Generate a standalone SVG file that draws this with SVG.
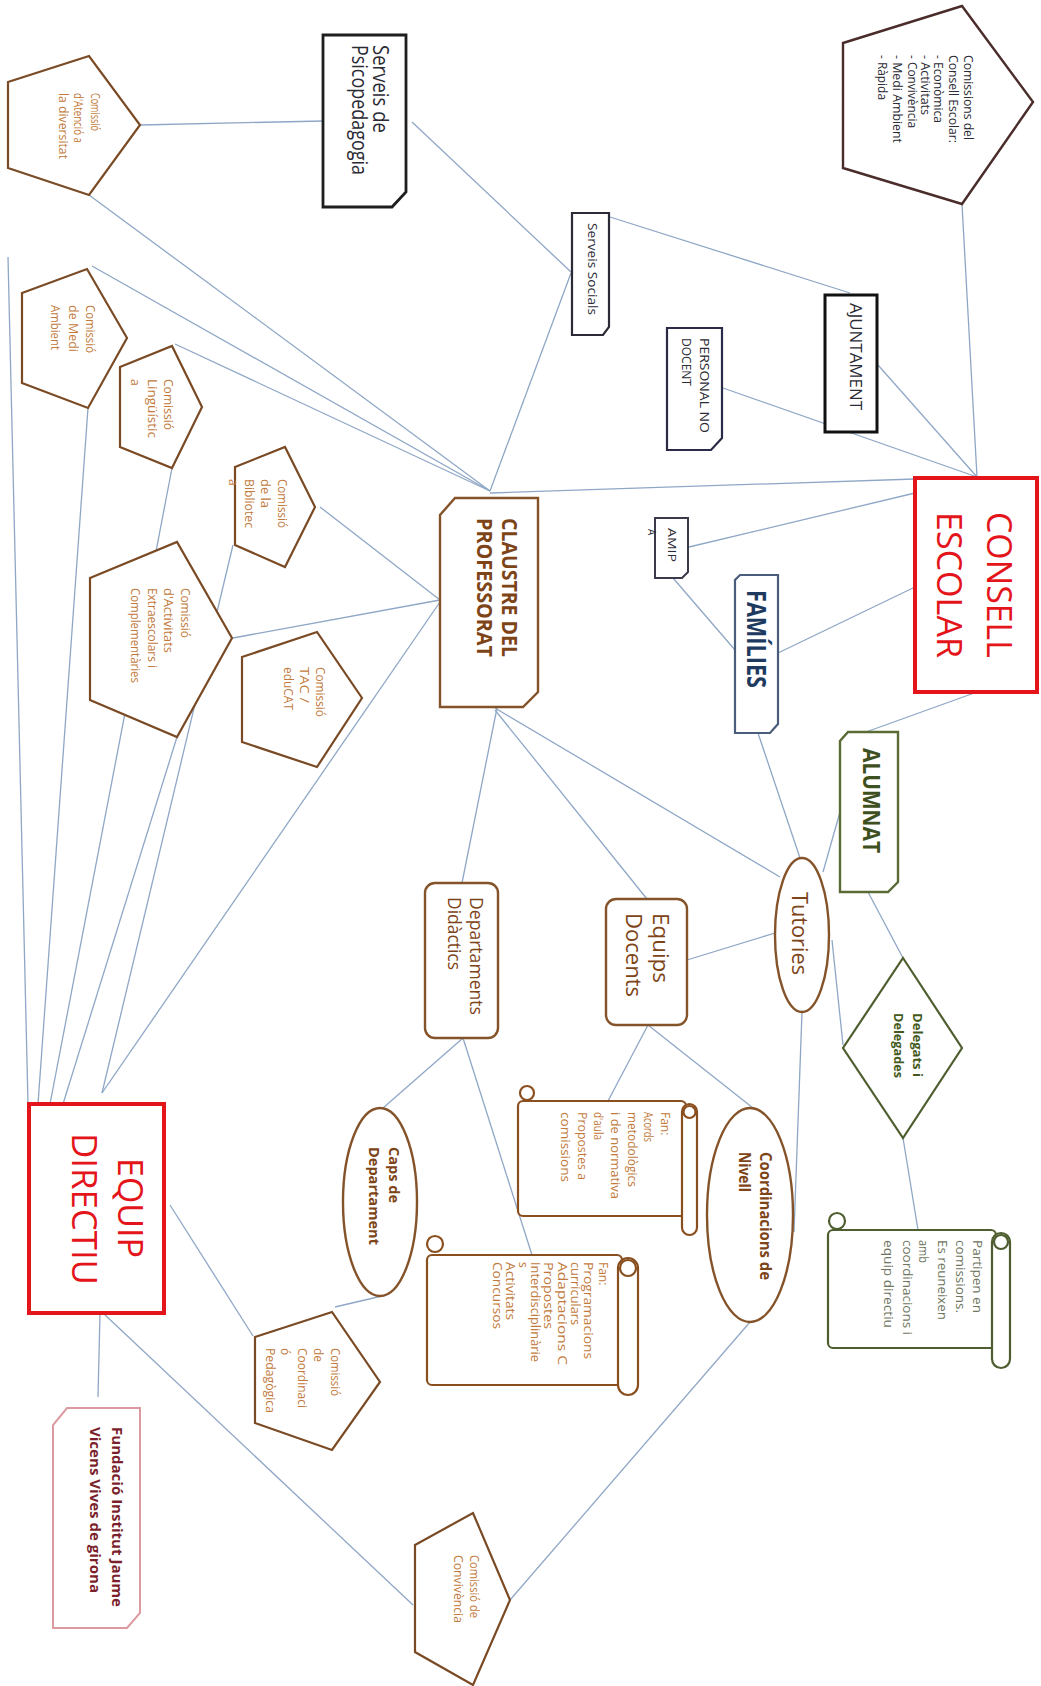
<svg xmlns="http://www.w3.org/2000/svg" width="1041" height="1686" viewBox="0 0 1041 1686">
<style>
text{font-family:"Open Sans","Liberation Sans",sans-serif;}
.ln{stroke:#8fa7c6;stroke-width:1.3;fill:none}
.pent{fill:#fff;stroke:#7a4a24;stroke-width:2.2;stroke-linejoin:miter}
.pt{fill:#c27a3c;font-size:12px}
.brn{fill:#fff;stroke:#85532a;stroke-width:2.4}
.bt{fill:#7d4418}
.btb{fill:#7d4418;font-weight:bold}
.scr{fill:#fff;stroke:#8a4f1f;stroke-width:2.2}
.st{fill:#c27a3c;font-size:12px}
.gscr{fill:#fff;stroke:#4f5e30;stroke-width:2.2}
.gt{fill:#6e7560;font-size:12px}
.dk{fill:#fff;stroke:#2b2b38;stroke-width:2.2}
.dt{fill:#2b2b35}
.red{fill:#fff;stroke:#e4141b;stroke-width:4}
.rt{fill:#e4141b}
</style>

<g id="connectors" class="ln">
<line x1="140" y1="125" x2="323" y2="121"/>
<line x1="412" y1="122" x2="571" y2="272"/>
<line x1="571" y1="273" x2="490" y2="491"/>
<line x1="610" y1="217" x2="850" y2="293"/>
<line x1="89" y1="195" x2="490" y2="491"/>
<line x1="92" y1="266" x2="490" y2="491"/>
<line x1="175" y1="344" x2="490" y2="491"/>
<line x1="490" y1="493" x2="915" y2="479"/>
<line x1="962" y1="204" x2="977" y2="477"/>
<line x1="878" y1="365" x2="977" y2="477"/>
<line x1="723" y1="388" x2="977" y2="477"/>
<line x1="689" y1="547" x2="915" y2="493"/>
<line x1="673" y1="578" x2="735" y2="650"/>
<line x1="778" y1="653" x2="915" y2="587"/>
<line x1="977" y1="692" x2="866" y2="732"/>
<line x1="758" y1="733" x2="800" y2="858"/>
<line x1="840" y1="812" x2="823" y2="872"/>
<line x1="495" y1="708" x2="780" y2="877"/>
<line x1="495" y1="710" x2="647" y2="899"/>
<line x1="497" y1="708" x2="462" y2="883"/>
<line x1="440" y1="602" x2="102" y2="1093"/>
<line x1="320" y1="507" x2="440" y2="600"/>
<line x1="233" y1="638" x2="440" y2="600"/>
<line x1="775" y1="933" x2="687" y2="960"/>
<line x1="832" y1="940" x2="843" y2="1045"/>
<line x1="868" y1="892" x2="903" y2="958"/>
<line x1="903" y1="1138" x2="918" y2="1230"/>
<line x1="802" y1="1012" x2="794" y2="1232"/>
<line x1="648" y1="1025" x2="608" y2="1101"/>
<line x1="648" y1="1025" x2="753" y2="1108"/>
<line x1="463" y1="1038" x2="383" y2="1108"/>
<line x1="463" y1="1038" x2="532" y2="1255"/>
<line x1="88" y1="408" x2="38" y2="1104"/>
<line x1="172" y1="468" x2="50" y2="1104"/>
<line x1="177" y1="737" x2="63" y2="1104"/>
<line x1="233" y1="545" x2="102" y2="1093"/>
<line x1="8" y1="257" x2="28" y2="1104"/>
<line x1="170" y1="1205" x2="253" y2="1336"/>
<line x1="382" y1="1296" x2="335" y2="1307"/>
<line x1="100" y1="1313" x2="98" y2="1397"/>
<line x1="103" y1="1313" x2="413" y2="1605"/>
<line x1="750" y1="1322" x2="510" y2="1600"/>
</g>

<g id="comissions-consell">
<polygon points="843,43 962,6 1033,102 962,204 843,168" fill="#fff" stroke="#4a2c2a" stroke-width="2.4"/>
<g class="dt" font-size="12">
<text transform="translate(964,55) rotate(90)" textLength="85" lengthAdjust="spacingAndGlyphs">Comissions del</text>
<text transform="translate(949,55) rotate(90)" textLength="88" lengthAdjust="spacingAndGlyphs">Consell Escolar:</text>
<text transform="translate(934,55) rotate(90)" textLength="68" lengthAdjust="spacingAndGlyphs">- Econòmica</text>
<text transform="translate(921,55) rotate(90)" textLength="60" lengthAdjust="spacingAndGlyphs">- Activitats</text>
<text transform="translate(908,55) rotate(90)" textLength="73" lengthAdjust="spacingAndGlyphs">- Convivència</text>
<text transform="translate(893,55) rotate(90)" textLength="88" lengthAdjust="spacingAndGlyphs">- Medi Ambient</text>
<text transform="translate(878,55) rotate(90)" textLength="45" lengthAdjust="spacingAndGlyphs">- Ràpida</text>
</g>
</g>

<g id="psicopedagogia">
<polygon points="323,35 406,35 406,192 392,207 323,207" fill="#fff" stroke="#1e1e1e" stroke-width="2.8"/>
<text class="dt" font-size="21" transform="translate(373,45) rotate(90)" textLength="88" lengthAdjust="spacingAndGlyphs">Serveis  de</text>
<text class="dt" font-size="21" transform="translate(352,45) rotate(90)" textLength="130" lengthAdjust="spacingAndGlyphs">Psicopedagogia</text>
</g>

<g id="atencio">
<polygon class="pent" points="8,82 89,56 140,125 89,195 8,168"/>
<g class="pt" font-size="11">
<text transform="translate(91,93) rotate(90)" textLength="38" lengthAdjust="spacingAndGlyphs">Comissió</text>
<text transform="translate(74,93) rotate(90)" textLength="50" lengthAdjust="spacingAndGlyphs">d'Atenció a</text>
<text transform="translate(59,93) rotate(90)" textLength="66" lengthAdjust="spacingAndGlyphs">la diversitat</text>
</g>
</g>

<g id="medi-ambient">
<polygon class="pent" points="22,293 87,269 127,338 88,408 22,383"/>
<g class="pt">
<text transform="translate(86,305) rotate(90)" textLength="48" lengthAdjust="spacingAndGlyphs">Comissió</text>
<text transform="translate(69,305) rotate(90)" textLength="47" lengthAdjust="spacingAndGlyphs">de Medi</text>
<text transform="translate(51,305) rotate(90)" textLength="45" lengthAdjust="spacingAndGlyphs">Ambient</text>
</g>
</g>

<g id="linguistica">
<polygon class="pent" points="120,367 172,346 202,407 172,468 120,447"/>
<g class="pt">
<text transform="translate(164,379) rotate(90)" textLength="51" lengthAdjust="spacingAndGlyphs">Comissió</text>
<text transform="translate(148,379) rotate(90)" textLength="59" lengthAdjust="spacingAndGlyphs">Lingüístic</text>
<text transform="translate(131,379) rotate(90)">a</text>
</g>
</g>

<g id="biblioteca">
<polygon class="pent" points="235,467 285,447 315,507 285,567 235,545"/>
<g class="pt">
<text transform="translate(278,479) rotate(90)" textLength="49" lengthAdjust="spacingAndGlyphs">Comissió</text>
<text transform="translate(261,479) rotate(90)" textLength="29" lengthAdjust="spacingAndGlyphs">de la</text>
<text transform="translate(245,479) rotate(90)" textLength="49" lengthAdjust="spacingAndGlyphs">Bibliotec</text>
<text transform="translate(229,479) rotate(90)">a</text>
</g>
</g>

<g id="activitats">
<polygon class="pent" points="90,578 177,542 232,638 177,737 90,700"/>
<g class="pt">
<text transform="translate(181,588) rotate(90)" textLength="50" lengthAdjust="spacingAndGlyphs">Comissió</text>
<text transform="translate(164,588) rotate(90)" textLength="65" lengthAdjust="spacingAndGlyphs">d'Activitats</text>
<text transform="translate(148,588) rotate(90)" textLength="80" lengthAdjust="spacingAndGlyphs">Extraescolars i</text>
<text transform="translate(131,588) rotate(90)" textLength="95" lengthAdjust="spacingAndGlyphs">Complementàries</text>
</g>
</g>

<g id="tac">
<polygon class="pent" points="242,657 317,632 362,698 317,767 242,742"/>
<g class="pt">
<text transform="translate(316,667) rotate(90)" textLength="50" lengthAdjust="spacingAndGlyphs">Comissió</text>
<text transform="translate(300,667) rotate(90)" textLength="36" lengthAdjust="spacingAndGlyphs">TAC /</text>
<text transform="translate(284,667) rotate(90)" textLength="43" lengthAdjust="spacingAndGlyphs">eduCAT</text>
</g>
</g>

<g id="coordinacio-pedagogica">
<polygon class="pent" points="255,1337 332,1312 380,1382 332,1450 255,1423"/>
<g class="pt">
<text transform="translate(331,1348) rotate(90)" textLength="48" lengthAdjust="spacingAndGlyphs">Comissió</text>
<text transform="translate(314,1348) rotate(90)">de</text>
<text transform="translate(298,1348) rotate(90)" textLength="60" lengthAdjust="spacingAndGlyphs">Coordinaci</text>
<text transform="translate(281,1348) rotate(90)">ó</text>
<text transform="translate(266,1348) rotate(90)" textLength="65" lengthAdjust="spacingAndGlyphs">Pedagògica</text>
</g>
</g>

<g id="convivencia">
<polygon class="pent" points="415,1545 473,1513 510,1600 473,1685 415,1652"/>
<g class="pt">
<text transform="translate(470,1555) rotate(90)" textLength="63" lengthAdjust="spacingAndGlyphs">Comissió de</text>
<text transform="translate(454,1555) rotate(90)" textLength="68" lengthAdjust="spacingAndGlyphs">Convivència</text>
</g>
</g>

<g id="serveis-socials">
<polygon class="dk" points="572,213 609,213 609,327 603,335 572,335"/>
<text class="dt" font-size="13" transform="translate(588,223) rotate(90)" textLength="92" lengthAdjust="spacingAndGlyphs">Serveis Socials</text>
</g>

<g id="ajuntament">
<rect x="825" y="295" width="52" height="137" fill="#fff" stroke="#111" stroke-width="3"/>
<text class="dt" font-size="16" transform="translate(850,303) rotate(90)" textLength="107" lengthAdjust="spacingAndGlyphs">AJUNTAMENT</text>
</g>

<g id="personal-no-docent">
<polygon points="667,328 722,328 722,438 711,450 667,450" fill="#fff" stroke="#2b2b48" stroke-width="2.2"/>
<text class="dt" font-size="12" transform="translate(700,338) rotate(90)" textLength="95" lengthAdjust="spacingAndGlyphs">PERSONAL NO</text>
<text class="dt" font-size="12" transform="translate(682,338) rotate(90)" textLength="48" lengthAdjust="spacingAndGlyphs">DOCENT</text>
</g>

<g id="consell-escolar">
<rect class="red" x="915" y="478" width="122" height="214"/>
<text class="rt" font-size="35" transform="translate(987,512) rotate(90)" textLength="146" lengthAdjust="spacingAndGlyphs">CONSELL</text>
<text class="rt" font-size="35" transform="translate(937,512) rotate(90)" textLength="146" lengthAdjust="spacingAndGlyphs">ESCOLAR</text>
</g>

<g id="amipa">
<polygon points="655,518 688,518 688,572 682,578 655,578" fill="#fff" stroke="#3a3a4a" stroke-width="2"/>
<text class="dt" font-size="10" transform="translate(668,528) rotate(90)" textLength="34" lengthAdjust="spacingAndGlyphs">AMIP</text>
<text class="dt" font-size="10" transform="translate(648,529) rotate(90)">A</text>
</g>

<g id="families">
<polygon points="740,575 778,575 778,724 770,733 735,733 735,580" fill="#fff" stroke="#4a5d7a" stroke-width="2.2"/>
<text fill="#1e3a5f" font-weight="bold" font-size="27" transform="translate(747,590) rotate(90)" textLength="98" lengthAdjust="spacingAndGlyphs">FAMÍLIES</text>
</g>

<g id="claustre">
<polygon class="brn" points="455,498 538,498 538,692 523,707 440,707 440,515" stroke="#8b4a1c"/>
<text class="btb" font-size="22" transform="translate(502,518) rotate(90)" textLength="139" lengthAdjust="spacingAndGlyphs">CLAUSTRE DEL</text>
<text class="btb" font-size="22" transform="translate(477,518) rotate(90)" textLength="139" lengthAdjust="spacingAndGlyphs">PROFESSORAT</text>
</g>

<g id="alumnat">
<polygon points="848,732 898,732 898,882 888,892 840,892 840,741" fill="#fff" stroke="#5b6b36" stroke-width="2.4"/>
<text fill="#3f5020" font-weight="bold" font-size="23" transform="translate(863,748) rotate(90)" textLength="105" lengthAdjust="spacingAndGlyphs">ALUMNAT</text>
</g>

<g id="tutories">
<ellipse class="brn" cx="802" cy="935" rx="27" ry="77"/>
<text class="bt" font-size="21" transform="translate(792,892) rotate(90)" textLength="83" lengthAdjust="spacingAndGlyphs">Tutories</text>
</g>

<g id="equips-docents">
<rect class="brn" x="606" y="899" width="81" height="126" rx="10"/>
<text class="bt" font-size="22" transform="translate(653,913) rotate(90)" textLength="70" lengthAdjust="spacingAndGlyphs">Equips</text>
<text class="bt" font-size="22" transform="translate(626,913) rotate(90)" textLength="84" lengthAdjust="spacingAndGlyphs">Docents</text>
</g>

<g id="departaments">
<rect class="brn" x="425" y="883" width="73" height="155" rx="10"/>
<text class="bt" font-size="19" transform="translate(470,897) rotate(90)" textLength="118" lengthAdjust="spacingAndGlyphs">Departaments</text>
<text class="bt" font-size="19" transform="translate(448,897) rotate(90)" textLength="73" lengthAdjust="spacingAndGlyphs">Didàctics</text>
</g>

<g id="delegats">
<polygon points="903,958 962,1048 903,1138 843,1048" fill="#fff" stroke="#4f5e30" stroke-width="2.2"/>
<text fill="#445a1c" font-weight="bold" font-size="12" transform="translate(913,1013) rotate(90)" textLength="64" lengthAdjust="spacingAndGlyphs">Delegats i</text>
<text fill="#445a1c" font-weight="bold" font-size="12" transform="translate(894,1013) rotate(90)" textLength="65" lengthAdjust="spacingAndGlyphs">Delegades</text>
</g>

<g id="caps-departament">
<ellipse class="brn" cx="380" cy="1202" rx="37" ry="94"/>
<text class="btb" font-size="15" transform="translate(389,1147) rotate(90)" textLength="56" lengthAdjust="spacingAndGlyphs">Caps de</text>
<text class="btb" font-size="15" transform="translate(369,1147) rotate(90)" textLength="98" lengthAdjust="spacingAndGlyphs">Departament</text>
</g>

<g id="coordinacions-nivell">
<ellipse class="brn" cx="750" cy="1215" rx="43" ry="107"/>
<text class="btb" font-size="16" transform="translate(760,1152) rotate(90)" textLength="128" lengthAdjust="spacingAndGlyphs">Coordinacions de</text>
<text class="btb" font-size="16" transform="translate(739,1152) rotate(90)" textLength="40" lengthAdjust="spacingAndGlyphs">Nivell</text>
</g>

<g id="scroll-equips">
<rect class="scr" x="518" y="1101" width="168" height="115" rx="5"/>
<rect class="scr" x="682" y="1104" width="15" height="131" rx="7.5"/>
<circle class="scr" cx="689.5" cy="1112" r="6"/>
<circle class="scr" cx="527" cy="1093" r="7"/>
<g class="st">
<text transform="translate(661,1112) rotate(90)">Fan:</text>
<text transform="translate(644,1112) rotate(90)" textLength="30" lengthAdjust="spacingAndGlyphs">Acords</text>
<text transform="translate(628,1112) rotate(90)" textLength="75" lengthAdjust="spacingAndGlyphs">metodològics</text>
<text transform="translate(611,1112) rotate(90)" textLength="87" lengthAdjust="spacingAndGlyphs">i de normativa</text>
<text transform="translate(594,1112) rotate(90)" textLength="28" lengthAdjust="spacingAndGlyphs">d'aula</text>
<text transform="translate(578,1112) rotate(90)" textLength="68" lengthAdjust="spacingAndGlyphs">Propostes a</text>
<text transform="translate(561,1112) rotate(90)" textLength="70" lengthAdjust="spacingAndGlyphs">comissions</text>
</g>
</g>

<g id="scroll-departaments">
<rect class="scr" x="427" y="1255" width="195" height="130" rx="5"/>
<rect class="scr" x="618" y="1258" width="20" height="137" rx="10"/>
<circle class="scr" cx="628" cy="1268" r="8"/>
<circle class="scr" cx="435" cy="1244" r="8"/>
<g class="st">
<text transform="translate(599,1262) rotate(90)">Fan:</text>
<text transform="translate(584,1262) rotate(90)" textLength="97" lengthAdjust="spacingAndGlyphs">Programacions</text>
<text transform="translate(571,1262) rotate(90)" textLength="63" lengthAdjust="spacingAndGlyphs">curriculars</text>
<text transform="translate(558,1262) rotate(90)" textLength="103" lengthAdjust="spacingAndGlyphs">Adaptacions C</text>
<text transform="translate(544,1262) rotate(90)" textLength="67" lengthAdjust="spacingAndGlyphs">Propostes</text>
<text transform="translate(531,1262) rotate(90)" textLength="100" lengthAdjust="spacingAndGlyphs">Interdisciplinàrie</text>
<text transform="translate(519,1262) rotate(90)">s</text>
<text transform="translate(506,1262) rotate(90)" textLength="58" lengthAdjust="spacingAndGlyphs">Activitats</text>
<text transform="translate(493,1262) rotate(90)" textLength="67" lengthAdjust="spacingAndGlyphs">Concursos</text>
</g>
</g>

<g id="scroll-delegats">
<rect class="gscr" x="828" y="1230" width="168" height="118" rx="5"/>
<rect class="gscr" x="992" y="1233" width="18" height="135" rx="9"/>
<circle class="gscr" cx="1001" cy="1242" r="7"/>
<circle class="gscr" cx="837" cy="1221" r="8"/>
<g class="gt">
<text transform="translate(973,1240) rotate(90)" textLength="73" lengthAdjust="spacingAndGlyphs">Partipen en</text>
<text transform="translate(956,1240) rotate(90)" textLength="73" lengthAdjust="spacingAndGlyphs">comissions.</text>
<text transform="translate(938,1240) rotate(90)" textLength="80" lengthAdjust="spacingAndGlyphs">Es reuneixen</text>
<text transform="translate(919,1240) rotate(90)" textLength="23" lengthAdjust="spacingAndGlyphs">amb</text>
<text transform="translate(903,1240) rotate(90)" textLength="95" lengthAdjust="spacingAndGlyphs">coordinacions i</text>
<text transform="translate(884,1240) rotate(90)" textLength="88" lengthAdjust="spacingAndGlyphs">equip directiu</text>
</g>
</g>

<g id="equip-directiu">
<rect class="red" x="29" y="1104" width="135" height="209"/>
<text class="rt" font-size="35" transform="translate(118,1158) rotate(90)" textLength="100" lengthAdjust="spacingAndGlyphs">EQUIP</text>
<text class="rt" font-size="35" transform="translate(72,1133) rotate(90)" textLength="152" lengthAdjust="spacingAndGlyphs">DIRECTIU</text>
</g>

<g id="fundacio">
<polygon points="67,1408 140,1408 140,1613 127,1628 53,1628 53,1425" fill="#fff" stroke="#dc9aa0" stroke-width="2"/>
<text fill="#7a1f2b" font-weight="bold" font-size="15" transform="translate(112,1427) rotate(90)" textLength="180" lengthAdjust="spacingAndGlyphs">Fundació Institut Jaume</text>
<text fill="#7a1f2b" font-weight="bold" font-size="15" transform="translate(90,1427) rotate(90)" textLength="166" lengthAdjust="spacingAndGlyphs">Vicens Vives de girona</text>
</g>
</svg>
